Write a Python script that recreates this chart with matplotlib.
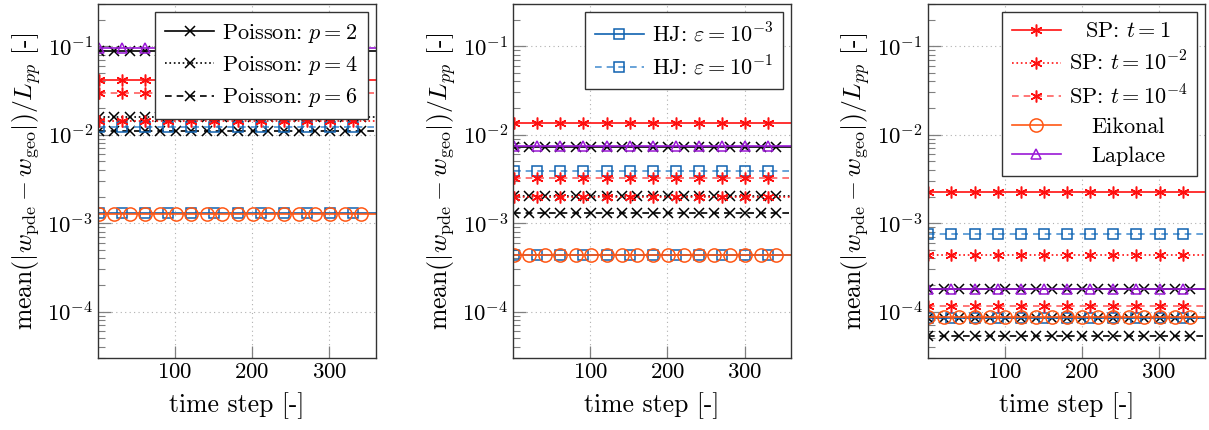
import numpy as np
import matplotlib
matplotlib.use("Agg")
import matplotlib.pyplot as plt

plt.rcParams['font.family'] = 'serif'
plt.rcParams['font.serif'] = ['cmr10', 'DejaVu Serif']
plt.rcParams['mathtext.fontset'] = 'cm'
plt.rcParams['axes.formatter.use_mathtext'] = True
plt.rcParams['axes.unicode_minus'] = True

# time steps (x axis)
n_steps = 360
time_step = np.arange(1, n_steps + 1)

# mean error per series, one value per panel [left, middle, right]
poisson_p2 = [0.088, 7.3e-3, 1.81e-4]
poisson_p4 = [0.0157, 2.05e-3, 8.6e-5]
poisson_p6 = [0.0111, 1.29e-3, 5.35e-5]
hj_eps3 = [1.29e-3, 4.32e-4, 8.4e-5]
hj_eps1 = [0.0121, 3.9e-3, 7.55e-4]
sp_t1 = [0.041, 0.0136, 2.25e-3]
sp_t2 = [0.0142, 2.0e-3, 4.4e-4]
sp_t4 = [0.0294, 3.27e-3, 1.17e-4]
eikonal = [1.28e-3, 4.32e-4, 8.8e-5]
laplace = [0.096, 7.4e-3, 1.82e-4]

x_ticks = [100, 200, 300]

BLUE = '#0F62B0'
LBLUE = '#4F93D2'
RED = '#FF1010'
LRED = '#FF6060'
ORANGE = '#FF5714'
PURPLE = '#9A19D6'
STAR = (6, 2, 0)

series = [
    # key, values, label, color, marker color, linestyle, marker, markersize, markevery
    ('p2', poisson_p2, r'Poisson: $p=2$', 'black', 'black', '-', 'x', 6.5, 20),
    ('p4', poisson_p4, r'Poisson: $p=4$', 'black', 'black', ':', 'x', 6.5, 20),
    ('p6', poisson_p6, r'Poisson: $p=6$', 'black', 'black', (0, (4, 3)), 'x', 6.5, 20),
    ('hj3', hj_eps3, r'HJ: $\varepsilon=10^{-3}$', BLUE, BLUE, '-', 's', 7.5, 30),
    ('hj1', hj_eps1, r'HJ: $\varepsilon=10^{-1}$', LBLUE, BLUE, (0, (4, 3)), 's', 7.5, 30),
    ('sp1', sp_t1, r'SP: $t=1$', RED, RED, '-', STAR, 8.5, 30),
    ('sp2', sp_t2, r'SP: $t=10^{-2}$', RED, RED, ':', STAR, 8.5, 30),
    ('sp4', sp_t4, r'SP: $t=10^{-4}$', LRED, RED, (0, (4, 3)), STAR, 8.5, 30),
    ('eik', eikonal, 'Eikonal', ORANGE, ORANGE, '-', 'o', 9.5, 20),
    ('lap', laplace, 'Laplace', PURPLE, PURPLE, '-', '^', 7.5, 30),
]

legend_keys = [['p2', 'p4', 'p6'], ['hj3', 'hj1'], ['sp1', 'sp2', 'sp4', 'eik', 'lap']]

W, H = 1209, 430
fig = plt.figure(figsize=(W / 100, H / 100), dpi=100)
lefts = [98, 513.3, 927.5]
ax_w = 277.5
ax_bottom = 1 - 358 / H
ax_h = 354 / H

legends = []
for i in range(3):
    ax = fig.add_axes([lefts[i] / W, ax_bottom, ax_w / W, ax_h])
    handles = {}
    for key, vals, lab, col, mcol, ls, mk, ms, me in series:
        y = np.full(n_steps, vals[i])
        ln, = ax.plot(time_step, y, color=col, ls=ls, lw=1.2, marker=mk, ms=ms,
                      markevery=(0, me), mfc='none', mec=mcol, mew=1.1, label=lab)
        handles[key] = ln
    ax.set_yscale('log')
    ax.set_ylim(3e-5, 3e-1)
    ax.set_xlim(0, 360)
    ax.set_xticks(x_ticks)
    ax.grid(True, which='major', ls=(0, (1, 3)), color='#B0B0B0', lw=0.8)
    ax.tick_params(which='both', direction='in', color='#808080', top=False, right=False,
                   labelsize=16.5)
    ax.tick_params(which='major', length=9, width=0.9)
    ax.tick_params(which='minor', length=5, width=0.8)
    for sp in ax.spines.values():
        sp.set_color('#333333')
        sp.set_linewidth(1.0)
    ax.set_xlabel('time step [-]', fontsize=18.5, labelpad=7)
    ax.set_ylabel(r'mean$(|w_{\mathrm{pde}} - w_{\mathrm{geo}}|)/L_{pp}$ [-]', fontsize=18.5,
                  labelpad=3)
    hs = [handles[k] for k in legend_keys[i]]
    leg = ax.legend(handles=hs, loc='upper right', fontsize=16, numpoints=1,
                    handlelength=2.2, handletextpad=0.35, borderaxespad=0.35,
                    fancybox=False, framealpha=1, edgecolor='#333333',
                    borderpad=0.45, labelspacing=0.42)
    leg.get_frame().set_linewidth(1.0)
    legends.append(leg)

# centre the legend texts like pgfplots does
fig.canvas.draw()
renderer = fig.canvas.get_renderer()
for leg in legends:
    texts = leg.get_texts()
    widths = [t.get_window_extent(renderer).width for t in texts]
    wmax = max(widths)
    for t, w in zip(texts, widths):
        t.set_x((wmax - w) / 2)

fig.savefig('out.png', dpi=100)
